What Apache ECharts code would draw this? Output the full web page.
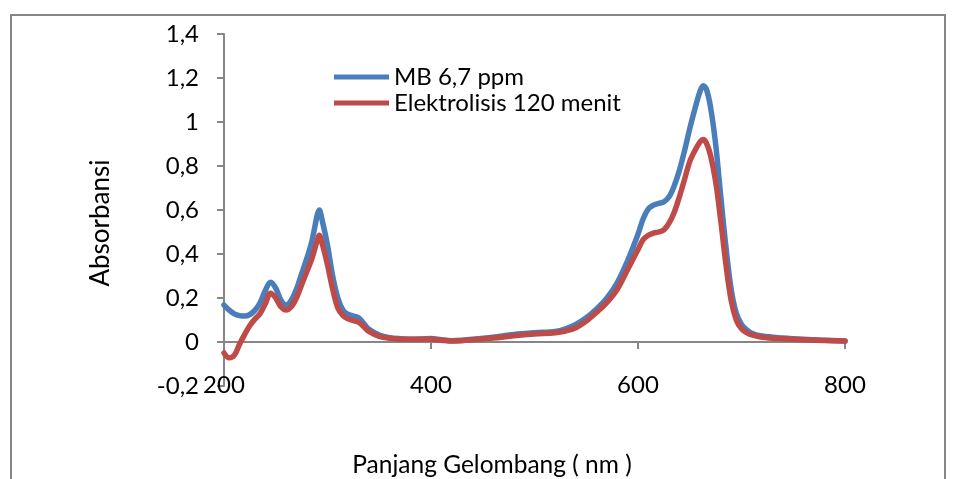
<!DOCTYPE html>
<html>
<head>
<meta charset="utf-8">
<script src="https://cdn.jsdelivr.net/npm/echarts@6/dist/echarts.min.js"></script>
<style>
  html, body { margin: 0; padding: 0; background: #fff; }
  #chart { width: 958px; height: 479px; }
</style>
</head>
<body>
<div id="chart"></div>
<script>
// Wavelength grid (nm) shared by both spectra
const wavelengths = [200, 205, 210, 215, 220, 225, 230, 235, 240, 245, 250, 255, 260, 265, 270, 275, 280, 285, 290, 292, 295, 300, 305, 310, 315, 320, 325, 330, 335, 340, 350, 360, 370, 380, 390, 400, 410, 420, 430, 440, 460, 480, 500, 520, 530, 540, 550, 560, 570, 580, 590, 600, 605, 610, 615, 620, 625, 630, 635, 640, 645, 650, 655, 660, 663, 666, 670, 675, 680, 685, 690, 695, 700, 705, 710, 720, 740, 760, 780, 800];

// Absorbance of methylene blue 6,7 ppm
const absMB = [0.168, 0.145, 0.128, 0.12, 0.118, 0.125, 0.145, 0.18, 0.235, 0.272, 0.245, 0.19, 0.168, 0.19, 0.24, 0.31, 0.38, 0.46, 0.575, 0.6, 0.55, 0.44, 0.3, 0.2, 0.145, 0.125, 0.118, 0.11, 0.085, 0.058, 0.032, 0.02, 0.015, 0.013, 0.014, 0.016, 0.01, 0.006, 0.008, 0.012, 0.022, 0.034, 0.042, 0.048, 0.06, 0.08, 0.11, 0.15, 0.2, 0.27, 0.37, 0.49, 0.56, 0.605, 0.622, 0.63, 0.637, 0.66, 0.71, 0.78, 0.87, 0.97, 1.06, 1.14, 1.165, 1.15, 1.07, 0.9, 0.66, 0.43, 0.24, 0.13, 0.08, 0.055, 0.04, 0.027, 0.018, 0.012, 0.008, 0.005];

// Absorbance after 120 minutes of electrolysis
const absElektrolisis = [-0.05, -0.072, -0.06, -0.01, 0.035, 0.075, 0.105, 0.13, 0.175, 0.222, 0.2, 0.16, 0.145, 0.16, 0.2, 0.26, 0.32, 0.38, 0.46, 0.485, 0.445, 0.35, 0.24, 0.155, 0.12, 0.105, 0.097, 0.09, 0.07, 0.048, 0.026, 0.017, 0.013, 0.012, 0.012, 0.013, 0.008, 0.004, 0.006, 0.01, 0.018, 0.028, 0.036, 0.042, 0.05, 0.065, 0.095, 0.135, 0.18, 0.24, 0.33, 0.42, 0.465, 0.485, 0.495, 0.5, 0.51, 0.54, 0.59, 0.66, 0.74, 0.82, 0.87, 0.91, 0.92, 0.905, 0.85, 0.73, 0.55, 0.35, 0.19, 0.1, 0.06, 0.042, 0.032, 0.022, 0.015, 0.01, 0.007, 0.004];

const seriesNames = ['MB 6,7 ppm', 'Elektrolisis 120 menit'];
const seriesColors = ['#4A7EBB', '#BE4B48'];
const xTitle = 'Panjang Gelombang ( nm )';
const yTitle = 'Absorbansi';

const FONT = 'Lato';
const AXIS_GRAY = '#868686';

function pairs(values) {
  return wavelengths.map((w, i) => [w, values[i]]);
}

const chart = echarts.init(document.getElementById('chart'), null, { renderer: 'canvas' });

const lineSeries = [absMB, absElektrolisis].map((vals, i) => ({
  name: seriesNames[i],
  type: 'line',
  data: pairs(vals),
  smooth: 0.35,
  symbol: 'none',
  color: seriesColors[i],
  lineStyle: { width: 5.5, color: seriesColors[i], cap: 'round', join: 'round' },
  z: 2 + i,
  animation: false
}));

chart.setOption({
  animation: false,
  backgroundColor: '#fff',
  textStyle: { fontFamily: FONT },
  grid: { left: 224, right: 113, top: 34, bottom: 93, containLabel: false },
  legend: {
    orient: 'vertical',
    left: 329,
    top: 60,
    itemWidth: 55,
    itemHeight: 5,
    itemGap: 2,
    icon: 'rect',
    data: seriesNames,
    textStyle: { fontFamily: FONT, fontSize: 24, color: '#000', lineHeight: 24 }
  },
  xAxis: {
    type: 'value',
    min: 200,
    max: 800,
    interval: 200,
    axisLine: { onZero: true, lineStyle: { color: AXIS_GRAY, width: 2 } },
    axisTick: { show: true, length: 7, lineStyle: { color: AXIS_GRAY, width: 2 } },
    axisLabel: { margin: -13, fontFamily: FONT, fontSize: 24, color: '#000' },
    splitLine: { show: false }
  },
  yAxis: {
    type: 'value',
    min: -0.2,
    max: 1.4,
    interval: 0.2,
    axisLine: { show: true, lineStyle: { color: AXIS_GRAY, width: 2 } },
    axisTick: { show: true, length: 7, lineStyle: { color: AXIS_GRAY, width: 2 } },
    axisLabel: {
      margin: 25,
      fontFamily: FONT,
      fontSize: 24,
      color: '#000',
      formatter: v => String(Math.round(v * 10) / 10).replace('.', ',')
    },
    splitLine: { show: false }
  },
  graphic: [
    {
      type: 'rect',
      shape: { x: 11, y: 15, width: 934, height: 520 },
      style: { fill: 'none', stroke: AXIS_GRAY, lineWidth: 2 },
      silent: true,
      z: -1
    },
    {
      type: 'text',
      x: 101,
      y: 223,
      rotation: Math.PI / 2,
      style: { text: yTitle, fontFamily: FONT, fontSize: 26, fill: '#000', align: 'center', verticalAlign: 'middle' }
    },
    {
      type: 'text',
      x: 492,
      y: 465,
      style: { text: xTitle, fontFamily: FONT, fontSize: 24.5, fill: '#000', align: 'center', verticalAlign: 'middle' }
    }
  ],
  series: lineSeries
});
</script>
</body>
</html>
